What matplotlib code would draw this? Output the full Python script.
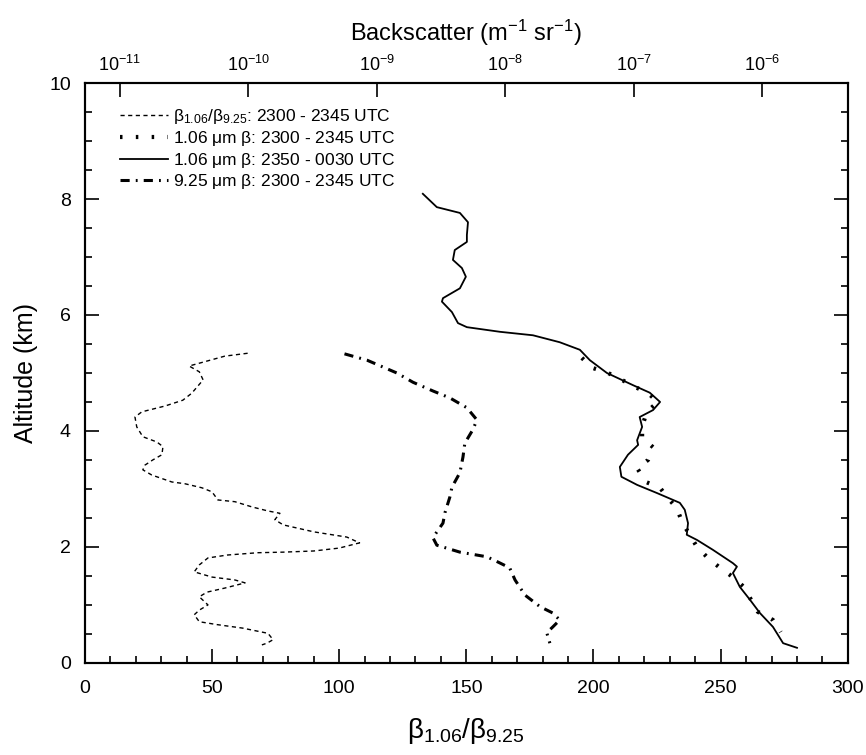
import matplotlib
matplotlib.use("Agg")
import matplotlib.pyplot as plt
from matplotlib.ticker import MultipleLocator, LogLocator, NullLocator

plt.rcParams['font.family'] = ['Liberation Sans', 'DejaVu Sans']
plt.rcParams['mathtext.fontset'] = 'custom'
plt.rcParams['mathtext.rm'] = 'Liberation Sans'
plt.rcParams['mathtext.it'] = 'Liberation Sans:italic'
plt.rcParams['mathtext.default'] = 'regular'

# ratio b1.06/b9.25, 2300-2345 UTC (bottom axis)
ratio_alt = [5.34, 5.29, 5.12, 5.02, 4.88, 4.65, 4.53, 4.43, 4.33, 4.24, 4.07, 3.90, 3.81, 3.73,
             3.59, 3.50, 3.41, 3.33, 3.24, 3.12, 3.09, 3.02, 2.95, 2.81, 2.78, 2.69, 2.62, 2.58,
             2.47, 2.38, 2.26, 2.17, 2.07, 1.98, 1.93, 1.91, 1.90, 1.86, 1.81, 1.69, 1.57, 1.48,
             1.43, 1.38, 1.29, 1.22, 1.14, 1.00, 0.91, 0.83, 0.71, 0.66, 0.60, 0.51, 0.40, 0.34, 0.31]
ratio = [64, 55, 41, 45, 46.5, 42, 38.5, 31.5, 22.4, 19.7, 20.4, 22.8, 28.3, 30.7,
         30.3, 26.7, 23.6, 22.8, 26.3, 34.2, 39.3, 46, 50, 52.3, 59, 65.7, 72, 76.7,
         74.7, 78, 90, 103, 108, 100, 90, 78, 68, 56, 48.4, 45, 43, 50,
         59, 63, 55, 48, 45, 48.4, 45, 43, 45, 52, 62, 72, 74, 71.6, 69.6]

# 1.06 um backscatter, 2300-2345 UTC (top axis)
b106a_alt = [5.26, 5.09, 5.00, 4.88, 4.76, 4.65, 4.50, 4.33, 4.07, 3.88, 3.72, 3.50, 3.36,
             3.12, 3.02, 2.86, 2.67, 2.43, 2.00, 1.81, 1.64, 1.48, 1.31, 0.88, 0.74, 0.53]
b106a = [3.94e-8, 4.72e-8, 6.3e-8, 8.07e-8, 1.02e-7, 1.29e-7, 1.54e-7, 1.26e-7, 1.16e-7, 1.16e-7,
         1.41e-7, 1.29e-7, 1.06e-7, 1.24e-7, 1.60e-7, 1.81e-7, 2.16e-7, 2.37e-7, 3.10e-7,
         3.77e-7, 4.68e-7, 5.90e-7, 7.18e-7, 9.22e-7, 1.21e-6, 1.39e-6]

# 1.06 um backscatter, 2350-0030 UTC (top axis)
b106b_alt = [8.09, 7.86, 7.76, 7.60, 7.38, 7.26, 7.12, 6.95, 6.81, 6.66, 6.46, 6.29, 6.23, 6.05,
             5.86, 5.79, 5.71, 5.65, 5.53, 5.40, 5.22, 5.00, 4.79, 4.66, 4.50, 4.36, 4.24, 4.07,
             3.84, 3.76, 3.59, 3.38, 3.21, 3.07, 2.93, 2.76, 2.64, 2.41, 2.21, 2.12, 1.95, 1.72,
             1.66, 1.55, 1.31, 1.09, 0.86, 0.62, 0.34, 0.26]
b106b = [2.28e-9, 2.93e-9, 4.43e-9, 5.12e-9, 5.02e-9, 5.02e-9, 4.04e-9, 3.91e-9, 4.59e-9, 4.93e-9,
         4.43e-9, 3.27e-9, 3.21e-9, 3.84e-9, 4.28e-9, 5.02e-9, 9.08e-9, 1.64e-8, 2.65e-8, 3.80e-8,
         4.55e-8, 6.17e-8, 9.84e-8, 1.33e-7, 1.60e-7, 1.41e-7, 1.11e-7, 1.16e-7, 1.06e-7, 1.08e-7,
         9.0e-8, 7.78e-8, 8.0e-8, 1.06e-7, 1.51e-7, 2.28e-7, 2.49e-7, 2.64e-7, 2.58e-7, 3.10e-7,
         4.12e-7, 5.90e-7, 6.34e-7, 5.90e-7, 6.68e-7, 8.0e-7, 9.57e-7, 1.21e-6, 1.45e-6, 1.86e-6]

# 9.25 um backscatter, 2300-2345 UTC (top axis)
b925_alt = [5.33, 5.22, 5.00, 4.84, 4.69, 4.57, 4.40, 4.19, 4.02, 3.79, 3.55, 3.28, 3.03, 2.86,
            2.59, 2.41, 2.16, 2.03, 1.91, 1.83, 1.74, 1.64, 1.43, 1.17, 0.97, 0.86, 0.74, 0.62,
            0.52, 0.34]
b925 = [5.6e-10, 8.4e-10, 1.43e-9, 1.91e-9, 2.73e-9, 3.70e-9, 5.02e-9, 6.01e-9, 5.58e-9, 4.84e-9,
        4.68e-9, 4.43e-9, 3.84e-9, 3.70e-9, 3.39e-9, 3.27e-9, 2.73e-9, 2.93e-9, 4.43e-9, 7.18e-9,
        8.75e-9, 1.08e-8, 1.19e-8, 1.42e-8, 1.86e-8, 2.34e-8, 2.65e-8, 2.34e-8, 2.10e-8, 2.22e-8]

labels = [r'$\beta_{1.06}/\beta_{9.25}$: 2300 - 2345 UTC',
          r'1.06 $\mu$m $\beta$: 2300 - 2345 UTC',
          r'1.06 $\mu$m $\beta$: 2350 - 0030 UTC',
          r'9.25 $\mu$m $\beta$: 2300 - 2345 UTC']

fig = plt.figure(figsize=(8.66, 7.55), dpi=100)
ax = fig.add_axes([0.098, 0.122, 0.881, 0.768])
ax2 = ax.twiny()
ax2.yaxis.set_visible(False)

h1, = ax.plot(ratio, ratio_alt, color='black', lw=1.0, linestyle=(0, (3, 2.5)))
h2, = ax2.plot(b106a, b106a_alt, color='black', lw=3.0, linestyle=(0, (0.6, 3.2)))
h3, = ax2.plot(b106b, b106b_alt, color='black', lw=1.3, linestyle='-')
h4, = ax2.plot(b925, b925_alt, color='black', lw=2.2, linestyle=(0, (3, 2, 0.6, 2)))

ax.set_xlim(0, 300)
ax.set_ylim(0, 10)
ax2.set_xscale('log')
ax2.set_xlim(10 ** -11.272, 10 ** -5.335)

ax.xaxis.set_major_locator(MultipleLocator(50))
ax.xaxis.set_minor_locator(MultipleLocator(10))
ax.yaxis.set_major_locator(MultipleLocator(2))
ax.yaxis.set_minor_locator(MultipleLocator(0.5))
ax.tick_params(which='both', direction='in', top=False, right=True, labelsize=14, width=1.2)
ax.tick_params(which='major', length=10)
ax.tick_params(which='minor', length=5)
ax.tick_params(axis='x', pad=12)
ax.tick_params(axis='y', pad=10)

ax2.xaxis.set_major_locator(LogLocator(base=10, numticks=10))
ax2.xaxis.set_minor_locator(NullLocator())
ax2.tick_params(which='major', direction='in', length=10, width=1.2, labelsize=13, pad=6)

for a in (ax, ax2):
    for s in a.spines.values():
        s.set_linewidth(1.5)

ax.set_xlabel(r'$\beta_{1.06}/\beta_{9.25}$', fontsize=20, labelpad=14)
ax.set_ylabel('Altitude (km)', fontsize=18, labelpad=8)
ax2.set_xlabel(r'Backscatter (m$^{-1}$ sr$^{-1}$)', fontsize=17, labelpad=10)

ax.legend([h1, h2, h3, h4], labels, loc='upper left', bbox_to_anchor=(0.025, 0.985),
          frameon=False, fontsize=12.5, handlelength=2.8, handletextpad=0.3, labelspacing=0.15)

plt.savefig('out.png', dpi=100)
